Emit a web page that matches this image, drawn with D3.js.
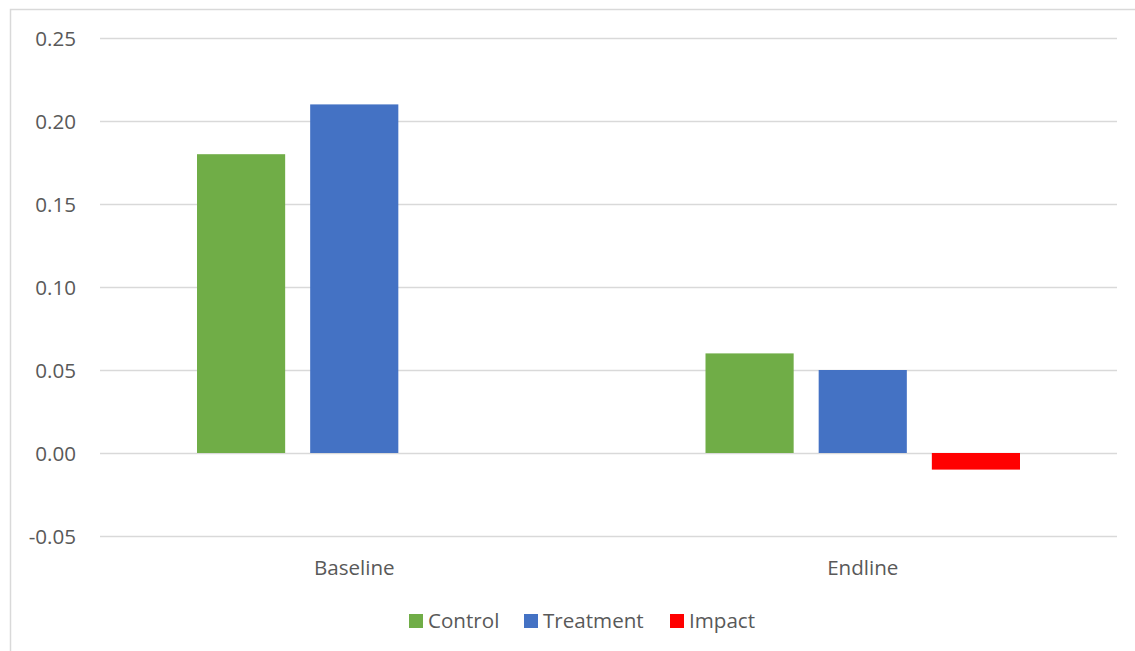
<!DOCTYPE html>
<html>
<head>
<meta charset="utf-8">
<script src="https://cdn.jsdelivr.net/npm/d3@7"></script>
<style>
  html, body { margin: 0; padding: 0; background: #fff; }
  svg { display: block; font-family: "Open Sans", "Noto Sans", sans-serif; }
</style>
</head>
<body>
<svg id="chart" width="1135" height="651"></svg>
<script>
// Rounds of measurement and the groups compared in each
const categories = ["Baseline", "Endline"];
const seriesNames = ["Control", "Treatment", "Impact"];
const controlValues = [0.18, 0.06];
const treatmentValues = [0.21, 0.05];
const impactValues = [null, -0.01];
const yTicks = [-0.05, 0, 0.05, 0.10, 0.15, 0.20, 0.25];
const colors = ["#70AD47", "#4472C4", "#FF0000"];

const seriesValues = [controlValues, treatmentValues, impactValues];

const svg = d3.select("#chart");
const W = 1135, H = 651;
const textColor = "#595959";
const fontSize = 20.6;

// Chart frame
svg.append("rect")
  .attr("x", 10.5).attr("y", 9.5)
  .attr("width", W + 10).attr("height", H + 10)
  .attr("fill", "none").attr("stroke", "#D9D9D9").attr("stroke-width", 1.5);

const plot = { left: 100, right: 1117, top: 38, bottom: 536 };

const y = d3.scaleLinear().domain([-0.05, 0.25]).range([plot.bottom, plot.top]);
const x0 = d3.scaleBand().domain(categories).range([plot.left, plot.right]).padding(0);
const outer = 97;
const x1 = d3.scaleBand().domain(seriesNames)
  .range([outer, x0.bandwidth() - outer])
  .paddingInner(0.221).paddingOuter(0);

// Gridlines
svg.append("g").selectAll("line").data(yTicks).join("line")
  .attr("x1", plot.left).attr("x2", plot.right)
  .attr("y1", d => Math.round(y(d)) + 0.5).attr("y2", d => Math.round(y(d)) + 0.5)
  .attr("stroke", "#D9D9D9").attr("stroke-width", 1.6);

// Y axis labels (plain hyphen for negatives)
const fmt = d3.format(".2f");
const yAxis = d3.axisLeft(y).tickValues(yTicks)
  .tickFormat(d => fmt(d).replace("\u2212", "-"))
  .tickSize(0).tickPadding(0);
const yg = svg.append("g").attr("transform", `translate(76,0)`).call(yAxis);
yg.select(".domain").remove();
yg.selectAll("text")
  .attr("fill", textColor).attr("font-size", fontSize)
  .attr("font-family", "'Open Sans', sans-serif")
  .attr("dy", "0.35em");

// Bars
const rows = [];
categories.forEach((c, i) => {
  seriesNames.forEach((s, j) => {
    const v = seriesValues[j][i];
    if (v !== null) rows.push({ category: c, series: s, value: v, color: colors[j] });
  });
});

svg.append("g").selectAll("rect").data(rows).join("rect")
  .attr("x", d => x0(d.category) + x1(d.series))
  .attr("width", x1.bandwidth())
  .attr("y", d => y(Math.max(0, d.value)))
  .attr("height", d => Math.abs(y(d.value) - y(0)))
  .attr("fill", d => d.color);

// Category axis labels
const xAxis = d3.axisBottom(x0).tickSize(0).tickPadding(0);
const xg = svg.append("g").attr("transform", `translate(0,${plot.bottom})`).call(xAxis);
xg.select(".domain").remove();
xg.selectAll("text")
  .attr("fill", textColor).attr("font-size", fontSize)
  .attr("font-family", "'Open Sans', sans-serif")
  .attr("dy", null).attr("y", 39);

// Legend
const legendItems = [
  { name: seriesNames[0], color: colors[0], x: 409 },
  { name: seriesNames[1], color: colors[1], x: 524 },
  { name: seriesNames[2], color: colors[2], x: 670 }
];
const lg = svg.append("g");
legendItems.forEach(it => {
  lg.append("rect").attr("x", it.x).attr("y", 614).attr("width", 14).attr("height", 14).attr("fill", it.color);
  lg.append("text").attr("x", it.x + 19).attr("y", 628)
    .attr("fill", textColor).attr("font-size", fontSize).text(it.name);
});
</script>
</body>
</html>
